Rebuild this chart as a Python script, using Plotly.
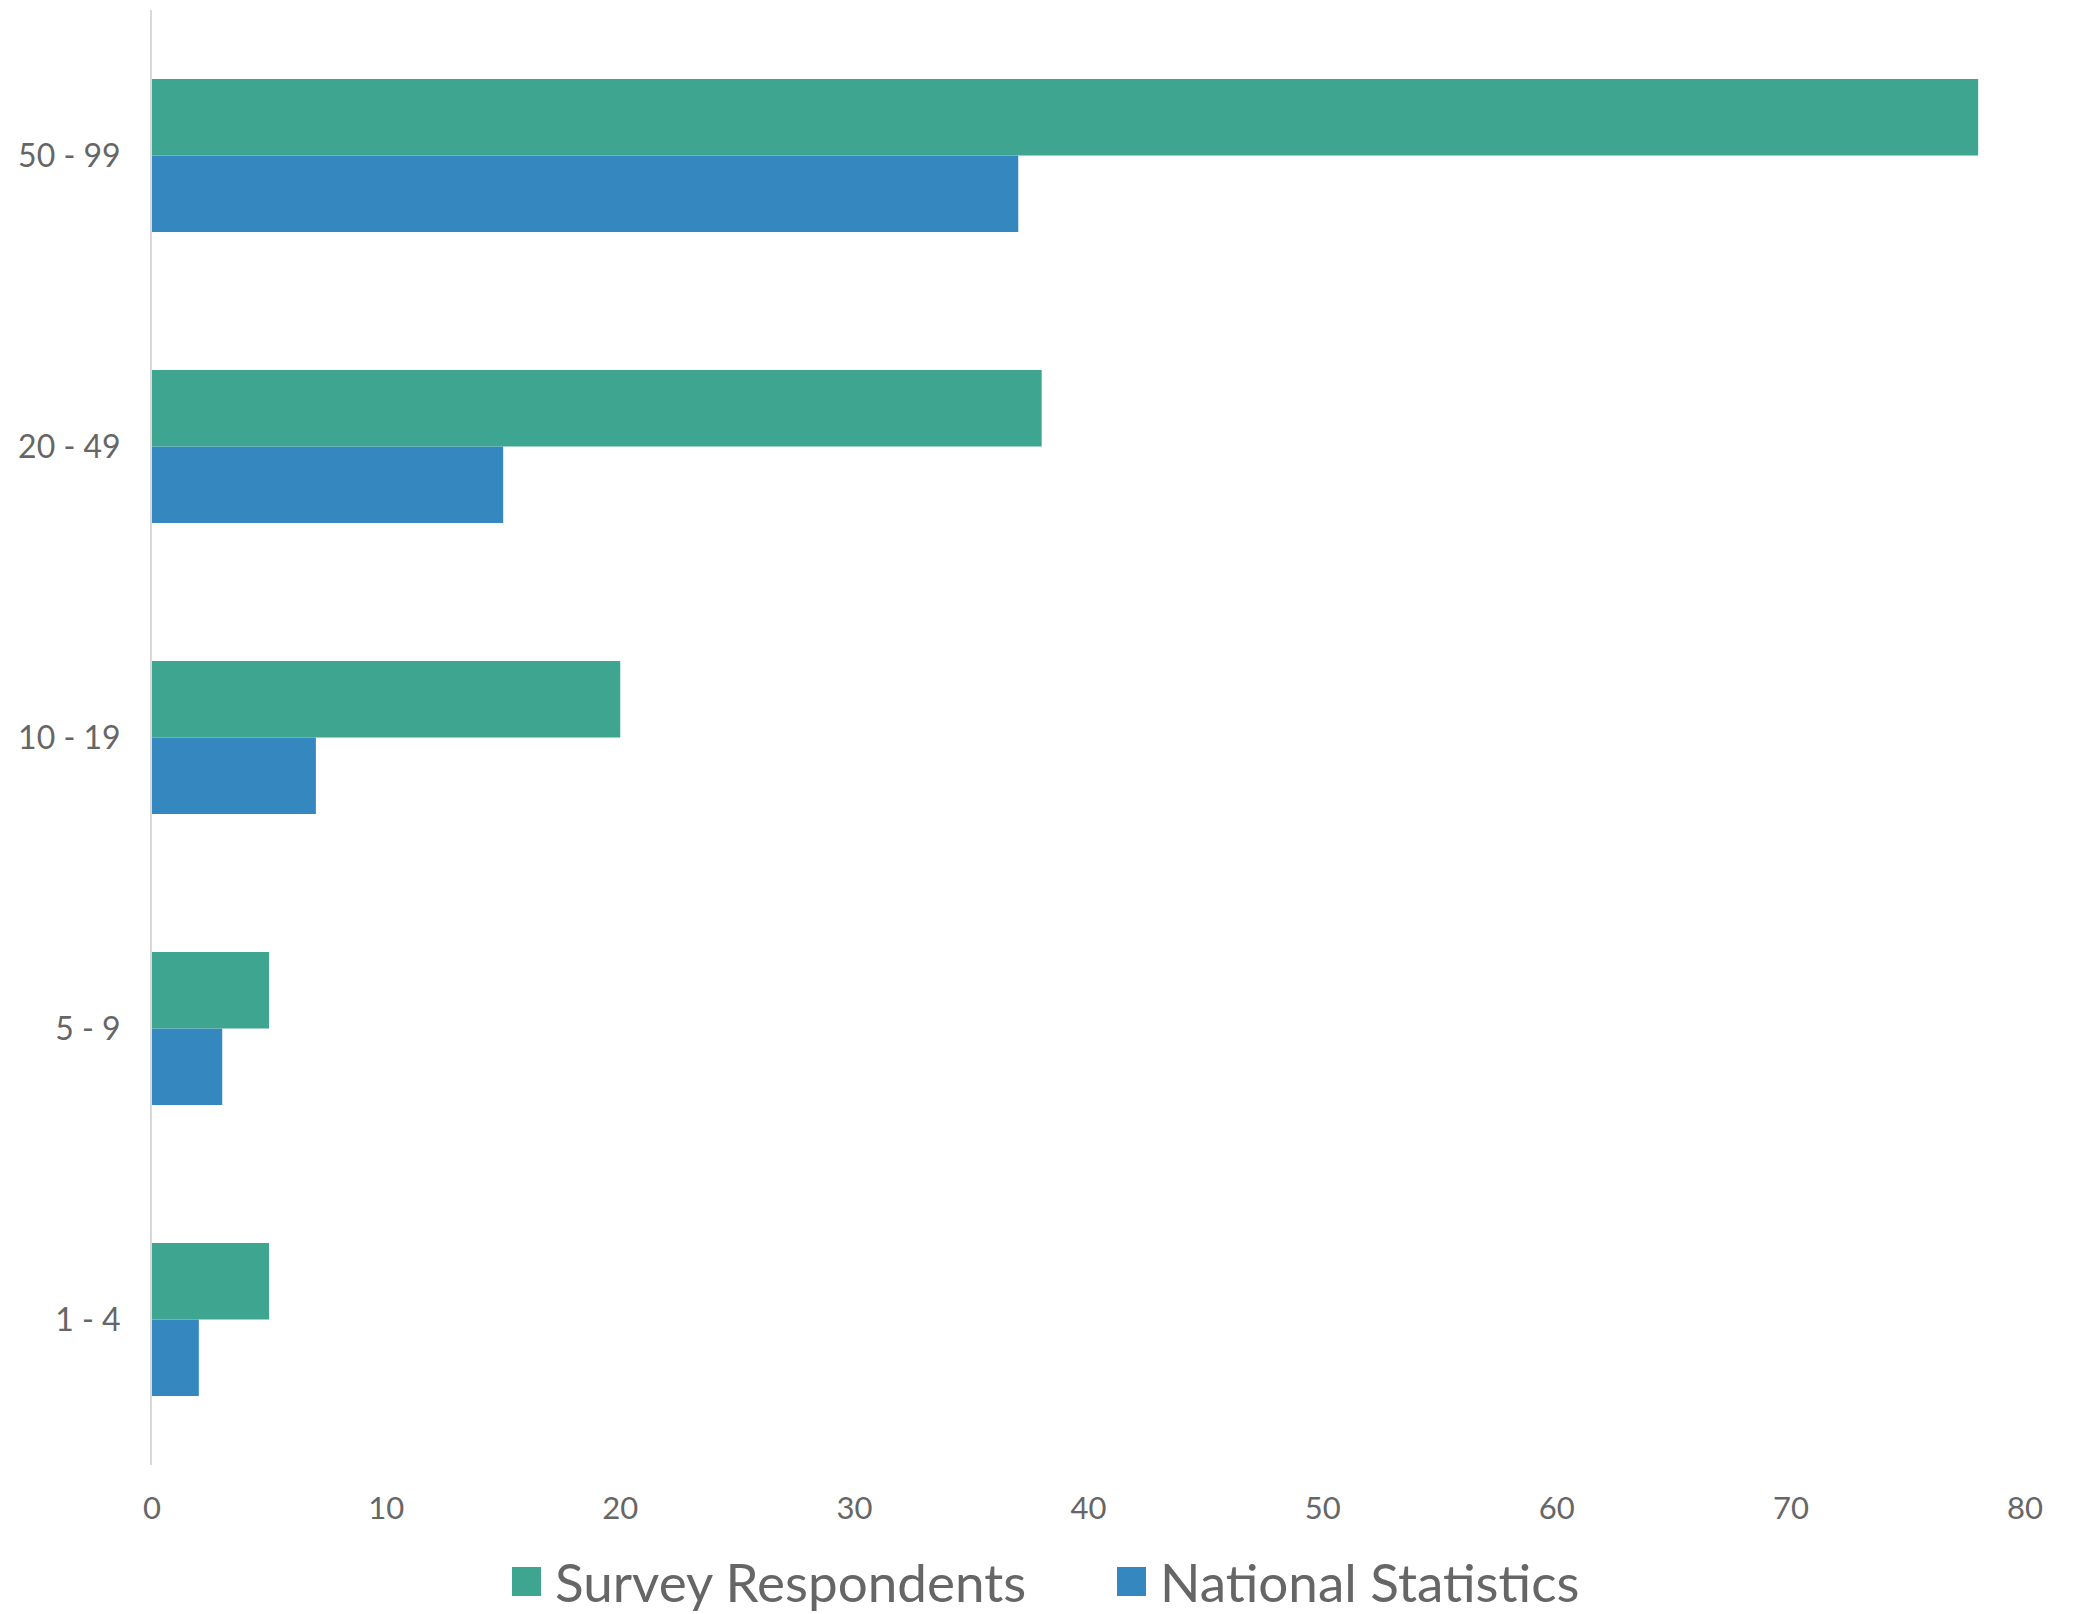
import plotly.graph_objects as go

categories = ["1 - 4", "5 - 9", "10 - 19", "20 - 49", "50 - 99"]
survey_respondents = [5, 5, 20, 38, 78]
national_statistics = [2, 3, 7, 15, 37]
x_ticks = [0, 10, 20, 30, 40, 50, 60, 70, 80]

GREEN = "rgb(62,166,144)"
BLUE = "rgb(53,136,191)"
TEXT = "#666666"

fig = go.Figure()
# blue first so it sits below the green bar in each group
fig.add_trace(go.Bar(y=categories, x=national_statistics, orientation="h",
                     name="National Statistics", marker=dict(color=BLUE, line=dict(width=0)),
                     showlegend=False))
fig.add_trace(go.Bar(y=categories, x=survey_respondents, orientation="h",
                     name="Survey Respondents", marker=dict(color=GREEN, line=dict(width=0)),
                     showlegend=False))

W, H = 2076, 1614
ml, mr, mt, mb = 152, 51, 10, 149
pw, ph = W - ml - mr, H - mt - mb

def px_to_paper(x, y):
    return (x - ml) / pw, (H - mb - y) / ph

# custom legend
legend_items = [("Survey Respondents", GREEN, 512), ("National Statistics", BLUE, 1117)]
shapes = []
annotations = []
for label, color, x0 in legend_items:
    px0, py0 = px_to_paper(x0, 1567)
    px1, py1 = px_to_paper(x0 + 29, 1596)
    shapes.append(dict(type="rect", xref="paper", yref="paper", x0=px0, x1=px1,
                       y0=py1, y1=py0, fillcolor=color, line=dict(width=0)))
    tx, ty = px_to_paper(x0 + 41, 1581)
    annotations.append(dict(xref="paper", yref="paper", x=tx, y=ty, xanchor="left",
                            yanchor="middle", text=label, showarrow=False,
                            font=dict(family="Lato", size=53, color=TEXT)))

fig.update_layout(
    width=W, height=H,
    margin=dict(l=ml, r=mr, t=mt, b=mb),
    paper_bgcolor="white", plot_bgcolor="white",
    barmode="group", bargap=0.474, bargroupgap=0,
    font=dict(family="Lato", size=31, color=TEXT),
    showlegend=False,
    shapes=shapes, annotations=annotations,
    xaxis=dict(range=[0, 80], tickvals=x_ticks, showgrid=False, zeroline=False,
               showline=False, ticks="", ticklabelstandoff=22,
               tickfont=dict(family="Lato", size=31, color=TEXT)),
    yaxis=dict(categoryorder="array", categoryarray=categories, range=[-0.5, 4.5],
               showgrid=False, zeroline=False, showline=True, linecolor="#d9d9d9",
               linewidth=2, ticks="", ticklabelstandoff=23,
               tickfont=dict(family="Lato", size=32, color=TEXT)),
)

fig.write_html("out.html")
